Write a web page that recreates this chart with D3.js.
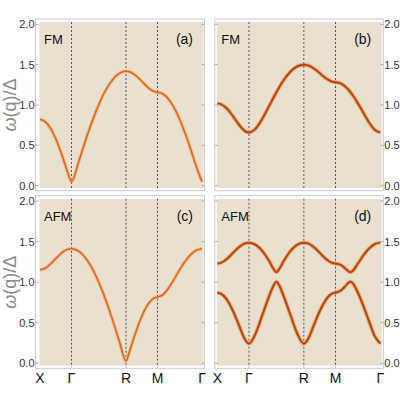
<!DOCTYPE html>
<html>
<head>
<meta charset="utf-8">
<script src="https://cdnjs.cloudflare.com/ajax/libs/d3/7.8.5/d3.min.js"></script>
<style>
  body { margin: 0; background: #fff; }
  svg text { font-family: "Liberation Sans", Arial, sans-serif; }
</style>
</head>
<body>
<div id="container"></div>
<script>
// path coordinate along X - Γ - R - M - Γ (units of 2π/a)
var qPath = [0, .0625, .125, .1875, .25, .3125, .375, .4375, .5,
  .6083, .7165, .8248, .8789, .933, .9871, 1.0413, 1.1495, 1.2578, 1.366,
  1.4285, 1.491, 1.5535, 1.616, 1.6785, 1.741, 1.8035, 1.866,
  1.9544, 2.0428, 2.0723, 2.1017, 2.1312, 2.2196, 2.308, 2.3963, 2.4847, 2.5731];

var symPoints = [0, 0.5, 1.366, 1.866, 2.5731];
var symLabels = ["X", "Γ", "R", "M", "Γ"];
var dashedAt = [0.5, 1.366, 1.866];
var yTicks = [0, 0.5, 1, 1.5, 2];

// ω(q)/Δ
var fmA = [.8201, .8044, .7579, .6824, .5809, .4575, .3172, .1674, .05,
  .2811, .5448, .7893, .9008, 1.0037, 1.0971, 1.1799, 1.3109, 1.3914, 1.4186,
  1.4096, 1.3837, 1.3437, 1.2952, 1.2448, 1.2001, 1.1696, 1.1587,
  1.1364, 1.0707, 1.0394, 1.0037, .9638, .8201, .6451, .4458, .2313, .05];

var fmB = [1.0201, 1.0087, .9757, .924, .8591, .7889, .724, .6773, .66,
  .7104, .8375, .9979, 1.0799, 1.1589, 1.233, 1.3002, 1.4089, 1.477, 1.5002,
  1.4925, 1.4705, 1.4365, 1.3957, 1.3537, 1.3168, 1.2917, 1.2828,
  1.2648, 1.2118, 1.187, 1.1589, 1.1279, 1.0201, .8995, .7828, .694, .66];

var afmC = [1.1537, 1.1646, 1.1952, 1.2395, 1.2898, 1.3382, 1.3779, 1.4038, 1.4128,
  1.3857, 1.3053, 1.1748, 1.0923, .9992, .8966, .7854, .5412, .2771, .0316,
  .1621, .3132, .4544, .5775, .6786, .7543, .8004, .8161,
  .8465, .9278, .9623, .9992, 1.0375, 1.1537, 1.2592, 1.3421, 1.3948, 1.4128];

var afmDUpper = [1.2301, 1.2405, 1.2699, 1.3134, 1.3633, 1.4118, 1.4518, 1.4779, 1.487,
  1.4596, 1.3788, 1.2503, 1.1744, 1.1234, 1.1744, 1.2503, 1.3788, 1.4596, 1.487,
  1.4779, 1.4518, 1.4118, 1.3633, 1.3134, 1.2699, 1.2405, 1.2301,
  1.2094, 1.1531, 1.1330, 1.1234, 1.1345, 1.2301, 1.3329, 1.4157, 1.4688, 1.487];

var afmDLower = [.8699, .8551, .8107, .7382, .6414, .5262, .4030, .2929, .2427,
  .3736, .6073, .8407, .9439, 1.004, .9439, .8407, .6073, .3736, .2427,
  .2929, .4030, .5262, .6414, .7382, .8107, .8551, .8699,
  .8986, .9697, .9931, 1.004, .9915, .8699, .7025, .5155, .3357, .2427];

var panels = [
  {tag: "(a)", phase: "FM", series: [fmA], x0: 40, x1: 202, y0: 185.7, y1: 24.3, side: "left", dark: false},
  {tag: "(b)", phase: "FM", series: [fmB], x0: 217.3, x1: 380.3, y0: 185.7, y1: 24.3, side: "right", dark: true},
  {tag: "(c)", phase: "AFM", series: [afmC], x0: 40, x1: 202, y0: 363.3, y1: 201, side: "left", dark: false},
  {tag: "(d)", phase: "AFM", series: [afmDUpper, afmDLower], x0: 217.3, x1: 380.3, y0: 363.3, y1: 201, side: "right", dark: true}
];

var svg = d3.select("#container").append("svg")
  .attr("width", 400)
  .attr("height", 400);

panels.forEach(function(p, pi) {
  var x = d3.scaleLinear().domain([0, 2.5731]).range([p.x0, p.x1]);
  var y = d3.scaleLinear().domain([0, 2]).range([p.y0, p.y1]);
  var g = svg.append("g").attr("class", "panel");

  var fl = p.side == "left" ? 3.5 : 1.5;
  var fr = p.side == "left" ? 1.5 : 2;
  var top = y(2) - 5.3, bot = y(0) + 5;

  // frame
  g.append("rect")
    .attr("x", p.x0 - fl - 1).attr("y", top)
    .attr("width", p.x1 - p.x0 + fl + fr + 2).attr("height", bot - top)
    .attr("fill", "none").attr("stroke", "#c8c8c8").attr("stroke-width", 1);

  // background
  g.append("rect")
    .attr("x", p.x0 - 0.5).attr("y", top + 3)
    .attr("width", p.x1 - p.x0 + 2).attr("height", bot - top - 5.5)
    .attr("fill", "#eae0cf");

  var fLeft = p.x0 - fl - 1, fRight = p.x1 + fr + 1;
  yTicks.forEach(function(t) {
    g.append("line").attr("x1", fLeft).attr("x2", fLeft + 3)
      .attr("y1", y(t)).attr("y2", y(t)).attr("stroke", "#aaa");
    g.append("line").attr("x1", fRight - 3).attr("x2", fRight)
      .attr("y1", y(t)).attr("y2", y(t)).attr("stroke", "#aaa");
  });

  var axis = p.side == "left" ? d3.axisLeft(y) : d3.axisRight(y);
  var ax = g.append("g")
    .attr("transform", "translate(" + (p.side == "left" ? fLeft : fRight) + ",0)")
    .call(axis.tickValues(yTicks).tickFormat(d3.format(".1f")).tickSize(0).tickPadding(1));
  ax.select(".domain").remove();
  ax.selectAll("text").attr("font-size", 11).attr("fill", "#333")
    .style("font-family", "'Liberation Sans', Arial, sans-serif");

  // dashed symmetry lines
  g.selectAll(".sym").data(dashedAt).enter().append("line")
    .attr("x1", function(d) { return x(d); }).attr("x2", function(d) { return x(d); })
    .attr("y1", top + 3).attr("y2", bot - 1)
    .attr("stroke", "#555").attr("stroke-width", 1).attr("stroke-dasharray", "2,2");

  var line = d3.line()
    .x(function(d, i) { return x(qPath[i]); })
    .y(function(d) { return y(d); })
    .curve(d3.curveMonotoneX);

  p.series.forEach(function(s) {
    g.append("path").attr("d", line(s)).attr("fill", "none")
      .attr("stroke", p.dark ? "#e08a4a" : "#eea060")
      .attr("stroke-opacity", 0.6)
      .attr("stroke-width", p.dark ? 4 : 3.5);
    g.append("path").attr("d", line(s)).attr("fill", "none")
      .attr("stroke", p.dark ? "#b8470c" : "#dc661c")
      .attr("stroke-width", p.dark ? 2 : 1.5);
  });

  var base = y(2) + 20;
  g.append("text").attr("x", p.x0 + 4).attr("y", base)
    .attr("font-size", 13).attr("fill", "#111").text(p.phase);
  g.append("text").attr("x", p.x1 - 9).attr("y", base)
    .attr("text-anchor", "end").attr("font-size", 14).attr("fill", "#111").text(p.tag);

  // q-point labels under bottom row
  if (pi >= 2) {
    g.selectAll(".ql").data(symPoints).enter().append("text")
      .attr("x", function(d) { return x(d); })
      .attr("y", 383)
      .attr("text-anchor", "middle")
      .attr("font-size", 14)
      .attr("fill", "#111")
      .text(function(d, i) { return symLabels[i]; });
  }

  if (p.side == "left") {
    var cy = (y(0) + y(2)) / 2;
    var lab = svg.append("text")
      .attr("transform", "translate(16," + cy + ") rotate(-90)")
      .attr("text-anchor", "middle")
      .attr("font-size", 18)
      .attr("fill", "#8a8a8a");
    lab.append("tspan").attr("font-style", "italic").text("ω");
    lab.append("tspan").text("(q)/Δ");
  }
});
</script>
</body>
</html>
